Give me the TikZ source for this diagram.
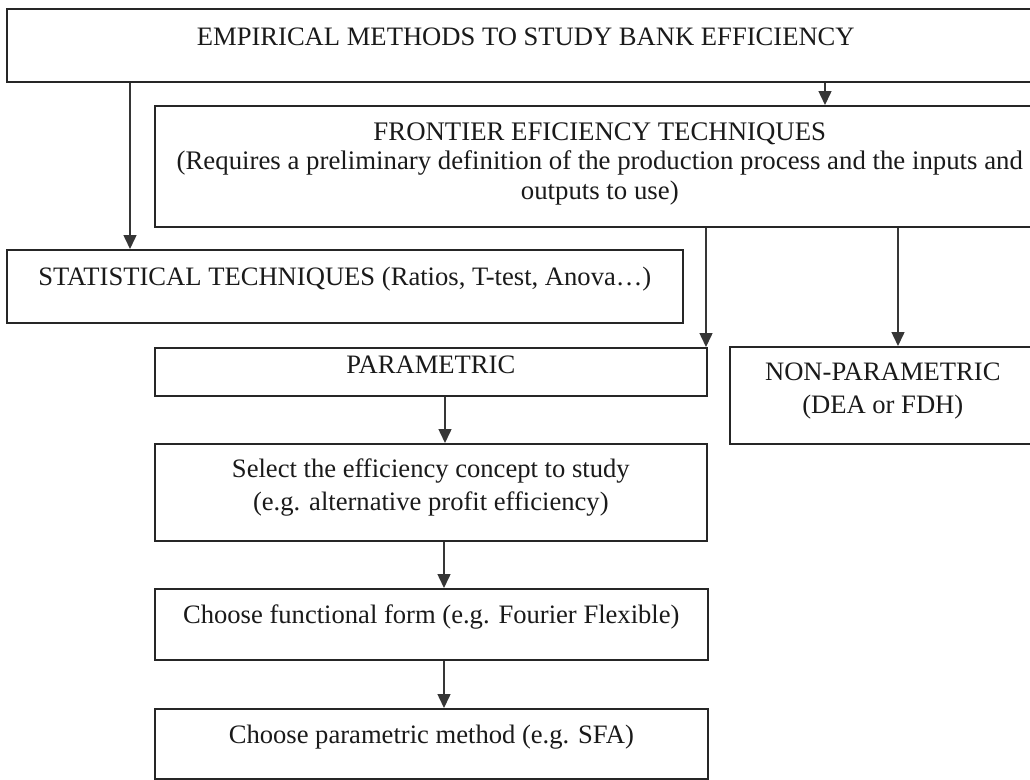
\documentclass[tikz,border=0pt]{standalone}
\usepackage{fontspec}
\setmainfont{Liberation Serif}
\usetikzlibrary{arrows.meta}
\definecolor{edge}{HTML}{262626}
\definecolor{ink}{HTML}{1A1A1A}
\definecolor{tip}{HTML}{363636}
\begin{document}
\begin{tikzpicture}[x=1pt,y=-1pt,
  box/.style={draw=edge,line width=1.6pt,inner sep=0pt,anchor=north west},
  lbl/.style={text=ink,align=center,anchor=base,inner sep=0pt,
    font=\fontsize{26.6}{33}\selectfont},
  lbltight/.style={lbl,font=\fontsize{26.8}{29.5}\selectfont},
  arr/.style={draw=tip,line width=1.5pt,-{Triangle[width=13pt,length=14pt]}}]
\useasboundingbox (0,0) rectangle (1030,779);
\fill[white] (0,0) rectangle (1030,779);
\clip (0,0) rectangle (1030,779);

% boxes
\node[box,minimum width=1030pt,minimum height=73pt]  (top)   at (6,8)     {};
\node[box,minimum width=890pt,minimum height=121pt]  (front) at (154,105)  {};
\node[box,minimum width=676pt,minimum height=73pt]   (stat)  at (6,249)    {};
\node[box,minimum width=552pt,minimum height=48pt]   (param) at (154,347)  {};
\node[box,minimum width=306pt,minimum height=97pt]   (nonp)  at (729,346)  {};
\node[box,minimum width=552pt,minimum height=97pt]   (sel)   at (154,443)  {};
\node[box,minimum width=553pt,minimum height=71pt]   (func)  at (154,588)  {};
\node[box,minimum width=553pt,minimum height=70pt]   (meth)  at (154,708)  {};

% texts (base anchor sits on the last line of each label)
\node[lbl] (topT) at ([xshift=4pt,yshift=-37pt]top.north) {EMPIRICAL METHODS TO STUDY BANK EFFICIENCY};
\node[lbltight] (frontT) at ([yshift=-94pt]front.north)
  {FRONTIER EFICIENCY TECHNIQUES\\(Requires a preliminary definition of the production process and the inputs and\\outputs to use)};
\node[lbl] (statT) at ([yshift=-36pt]stat.north) {STATISTICAL TECHNIQUES (Ratios, T-test, Anova\ldots)};
\node[lbl] (paramT) at ([yshift=-26pt]param.north) {PARAMETRIC};
\node[lbl] (nonpT) at ([yshift=-67pt]nonp.north) {NON-PARAMETRIC\\(DEA or FDH)};
\node[lbl] (selT) at ([yshift=-67pt]sel.north) {Select the efficiency concept to study\\(e.g. alternative profit efficiency)};
\node[lbl] (funcT) at ([yshift=-35pt]func.north) {Choose functional form (e.g. Fourier Flexible)};
\node[lbl] (methT) at ([yshift=-35pt]meth.north) {Choose parametric method (e.g. SFA)};

% connector columns
\coordinate (xstat) at (130,0);
\coordinate (xfront) at (825,0);
\coordinate (xpar) at (706,0);
\coordinate (xnonp) at (898,0);
\coordinate (xsel) at (445,0);
\coordinate (xchain) at (444,0);

% connectors
\draw[arr] (top.south -| xstat) -- (stat.north -| xstat);
\draw[arr] (top.south -| xfront) -- (front.north -| xfront);
\draw[arr] (front.south -| xpar) -- (param.north -| xpar);
\draw[arr] (front.south -| xnonp) -- (nonp.north -| xnonp);
\draw[arr] (param.south -| xsel) -- (sel.north -| xsel);
\draw[arr] (sel.south -| xchain) -- (func.north -| xchain);
\draw[arr] (func.south -| xchain) -- (meth.north -| xchain);
\end{tikzpicture}
\end{document}
